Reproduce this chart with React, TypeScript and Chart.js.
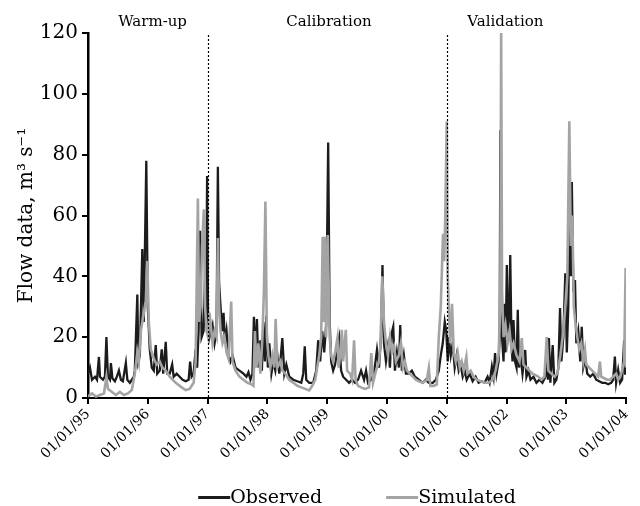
import { useEffect, useRef } from 'react';
import { Chart, registerables } from 'chart.js';

Chart.register(...registerables);

const FONT = '"DejaVu Serif", serif';

type Pt = [number, number];

// x tick labels (one per year, x value = years since 01/01/95)
const tickLabels = ['01/01/95', '01/01/96', '01/01/97', '01/01/98', '01/01/99', '01/01/00', '01/01/01', '01/01/02', '01/01/03', '01/01/04'];
const seriesNames = ['Observed', 'Simulated'];
const periodNames = ['Warm-up', 'Calibration', 'Validation'];
const periodLabelAt = [1.08, 4.03, 6.98];
const periodBoundaries = [2, 6];

// [years since 01/01/95, flow m3/s]
const observedWarmup: Pt[] = [
  [0.000, 8], [0.033, 10], [0.067, 6], [0.117, 7], [0.150, 6], [0.183, 13.5], [0.200, 7], [0.250, 6], [0.283, 7], [0.308, 20],
  [0.333, 7], [0.367, 6], [0.383, 11.5], [0.408, 6.5], [0.450, 5.5], [0.483, 7], [0.517, 9], [0.550, 6], [0.583, 5.5], [0.633, 11.5],
  [0.658, 6], [0.700, 5], [0.733, 6], [0.767, 7], [0.783, 9], [0.825, 34], [0.842, 12], [0.867, 14], [0.908, 49], [0.933, 25],
  [0.975, 78], [1.000, 30], [1.033, 16], [1.067, 10], [1.100, 9], [1.133, 17.4], [1.158, 8], [1.200, 9], [1.233, 16], [1.258, 8],
  [1.300, 18.5], [1.325, 8], [1.367, 8], [1.408, 11], [1.433, 7], [1.483, 8], [1.533, 7], [1.583, 6], [1.633, 5.5], [1.683, 6],
  [1.708, 12], [1.733, 7], [1.767, 8], [1.800, 16], [1.825, 10], [1.850, 22], [1.875, 55], [1.900, 20], [1.933, 22], [1.958, 40],
  [1.975, 24], [1.992, 73], [2.008, 25],
];
const observedCalibration: Pt[] = [
  [2.033, 20], [2.083, 24], [2.117, 18], [2.150, 22], [2.172, 76], [2.192, 38], [2.217, 30], [2.242, 22], [2.267, 28], [2.292, 18],
  [2.317, 22], [2.350, 14], [2.383, 12], [2.417, 14], [2.467, 10], [2.533, 9], [2.600, 8], [2.650, 7], [2.683, 8.5], [2.717, 6],
  [2.750, 8], [2.775, 26.7], [2.800, 12], [2.825, 26], [2.850, 10], [2.883, 19], [2.908, 9], [2.933, 25], [2.958, 12], [2.983, 27],
  [3.008, 10], [3.033, 18], [3.067, 8], [3.100, 12], [3.133, 9], [3.167, 14], [3.200, 8], [3.250, 19.7], [3.283, 8], [3.317, 11],
  [3.367, 7], [3.433, 6], [3.500, 5.5], [3.567, 5], [3.600, 8], [3.625, 17], [3.650, 6], [3.700, 5], [3.767, 5], [3.817, 9],
  [3.850, 19], [3.883, 12], [3.917, 22], [3.950, 15], [3.983, 24], [4.017, 84], [4.042, 25], [4.067, 12], [4.100, 9], [4.133, 11],
  [4.167, 16], [4.200, 19.7], [4.233, 9], [4.267, 7], [4.317, 6], [4.367, 5], [4.417, 6], [4.467, 5], [4.517, 6], [4.567, 9],
  [4.617, 6], [4.650, 9], [4.683, 5], [4.733, 6], [4.783, 8], [4.833, 15.8], [4.867, 10], [4.900, 20], [4.925, 43.7], [4.950, 18],
  [4.983, 12], [5.017, 17], [5.050, 10], [5.075, 21], [5.105, 23.4], [5.133, 9], [5.167, 15], [5.200, 10], [5.222, 24], [5.250, 9],
  [5.283, 14], [5.317, 8], [5.367, 8], [5.417, 9], [5.467, 7], [5.533, 6], [5.600, 5], [5.650, 6], [5.700, 5], [5.767, 5],
  [5.817, 6], [5.867, 9], [5.900, 14], [5.933, 18], [5.967, 25], [5.992, 22], [6.017, 12],
];
const observedValidation: Pt[] = [
  [6.033, 20], [6.067, 14], [6.100, 18], [6.133, 10], [6.167, 14], [6.200, 9], [6.233, 11], [6.267, 7], [6.300, 9], [6.333, 6],
  [6.383, 8], [6.433, 5.5], [6.483, 7], [6.533, 5], [6.583, 5.5], [6.633, 5], [6.683, 7], [6.717, 5], [6.755, 10.3], [6.783, 7],
  [6.808, 14.8], [6.833, 8], [6.867, 12], [6.885, 20], [6.897, 88], [6.925, 20], [6.950, 12], [6.967, 31], [6.983, 15], [7.005, 43.7],
  [7.022, 20], [7.042, 25], [7.062, 47], [7.083, 18], [7.100, 12], [7.117, 25.6], [7.142, 12], [7.167, 10], [7.188, 29], [7.208, 10],
  [7.233, 14], [7.267, 8], [7.312, 15.8], [7.333, 7], [7.367, 9], [7.400, 6], [7.450, 7], [7.500, 5], [7.550, 6], [7.600, 5],
  [7.650, 7], [7.672, 17], [7.692, 6], [7.708, 19.7], [7.733, 5], [7.772, 17.4], [7.800, 5], [7.833, 6], [7.867, 10], [7.895, 29.6],
  [7.917, 12], [7.950, 20], [7.983, 41], [8.008, 15], [8.033, 30], [8.058, 75], [8.075, 40], [8.092, 71], [8.117, 35], [8.145, 38.8],
  [8.167, 18], [8.200, 22], [8.233, 12], [8.258, 23.4], [8.283, 10], [8.317, 13], [8.350, 8], [8.400, 7], [8.450, 8], [8.500, 6],
  [8.550, 5.5], [8.600, 5], [8.650, 5], [8.700, 4.5], [8.750, 5], [8.783, 6], [8.812, 13.6], [8.833, 5], [8.867, 9.2], [8.900, 5],
  [8.933, 6], [8.967, 19], [8.983, 8], [9.000, 8],
];

const simulatedWarmup: Pt[] = [
  [0.000, 0.5], [0.067, 1.5], [0.133, 0.5], [0.200, 1], [0.267, 1.5], [0.308, 7], [0.333, 3], [0.400, 2], [0.467, 1], [0.533, 2],
  [0.600, 1], [0.667, 1.5], [0.733, 2.6], [0.783, 8], [0.825, 15], [0.850, 12], [0.883, 22], [0.917, 26], [0.967, 32], [0.992, 45],
  [1.017, 25], [1.050, 16], [1.100, 13], [1.150, 11], [1.200, 12], [1.242, 10], [1.300, 9], [1.367, 7], [1.467, 5], [1.567, 3.5],
  [1.633, 2.6], [1.700, 3], [1.767, 5], [1.800, 12], [1.838, 65.6], [1.858, 25], [1.883, 30], [1.908, 50], [1.938, 62], [1.958, 30],
  [1.983, 22], [2.008, 20],
];
const simulatedCalibration: Pt[] = [
  [2.033, 28], [2.083, 18], [2.117, 22], [2.150, 20], [2.172, 52.6], [2.192, 30], [2.217, 22], [2.250, 18], [2.283, 20], [2.317, 15],
  [2.350, 13], [2.395, 31.7], [2.417, 12], [2.467, 9], [2.533, 7], [2.600, 6], [2.667, 5], [2.733, 4.5], [2.767, 4], [2.792, 22],
  [2.817, 10], [2.850, 18], [2.883, 8], [2.917, 20], [2.942, 35], [2.967, 64.6], [2.992, 20], [3.017, 14], [3.050, 10], [3.083, 14],
  [3.117, 10], [3.138, 26], [3.167, 10], [3.217, 12], [3.250, 9], [3.300, 8], [3.367, 6], [3.433, 5], [3.500, 4], [3.567, 3.5],
  [3.633, 3], [3.700, 2.5], [3.750, 4], [3.800, 6], [3.833, 10], [3.867, 14], [3.900, 20], [3.925, 53], [3.942, 25], [3.962, 53],
  [3.983, 20], [4.010, 53.6], [4.042, 20], [4.067, 14], [4.100, 12], [4.133, 15], [4.172, 19.7], [4.192, 10], [4.217, 14], [4.245, 22.4],
  [4.267, 12], [4.312, 22.4], [4.333, 9], [4.383, 8], [4.417, 6], [4.450, 19], [4.475, 6], [4.517, 4], [4.567, 3.5], [4.633, 3],
  [4.700, 3.5], [4.738, 14.8], [4.767, 5], [4.817, 9], [4.867, 12], [4.892, 18], [4.922, 40], [4.950, 25], [4.983, 18], [5.017, 14],
  [5.050, 20], [5.083, 15], [5.117, 17], [5.150, 12], [5.200, 14], [5.233, 18], [5.267, 10], [5.300, 12], [5.333, 9], [5.383, 8],
  [5.433, 7], [5.483, 6], [5.533, 5.5], [5.600, 5], [5.667, 6], [5.700, 9.9], [5.725, 4], [5.783, 4], [5.833, 4.5], [5.867, 20],
  [5.900, 30], [5.938, 54], [5.958, 45], [5.975, 60], [6.000, 91], [6.017, 40],
];
const simulatedValidation: Pt[] = [
  [6.033, 30], [6.058, 18], [6.088, 31], [6.117, 15], [6.150, 12], [6.183, 15], [6.217, 10], [6.250, 12], [6.283, 9], [6.328, 13.6],
  [6.350, 8], [6.400, 9], [6.450, 7], [6.500, 6], [6.567, 5.5], [6.633, 5], [6.700, 5], [6.767, 6], [6.817, 9], [6.867, 14],
  [6.895, 30], [6.910, 121], [6.925, 35], [6.950, 20], [6.983, 24], [7.017, 18], [7.050, 22], [7.083, 16], [7.117, 18], [7.167, 14],
  [7.217, 12], [7.255, 19.7], [7.283, 11], [7.333, 10], [7.383, 9], [7.433, 8], [7.483, 7.5], [7.533, 7], [7.583, 6], [7.633, 7],
  [7.672, 20], [7.700, 9], [7.750, 8], [7.800, 7], [7.850, 8], [7.900, 14], [7.950, 22], [7.983, 30], [8.017, 40], [8.050, 91],
  [8.075, 50], [8.100, 60], [8.125, 30], [8.150, 25], [8.183, 20], [8.217, 16], [8.250, 18], [8.283, 12], [8.312, 15.8], [8.333, 11],
  [8.383, 10], [8.433, 9], [8.483, 8], [8.533, 7], [8.562, 12], [8.583, 7], [8.633, 6.5], [8.683, 6], [8.733, 6], [8.783, 7],
  [8.833, 8], [8.867, 6], [8.900, 7], [8.933, 9], [8.967, 12], [8.992, 42.7], [9.000, 10],
];

const toXY = (pts: Pt[]) => pts.map(([x, y]) => ({ x, y }));

const overlayPlugin = {
  id: 'overlay',
  afterDatasetsDraw(chart: any) {
    const { ctx, chartArea, scales } = chart;
    ctx.save();
    ctx.strokeStyle = '#000';
    ctx.lineWidth = 1.2;
    ctx.setLineDash([2, 2]);
    for (const b of periodBoundaries) {
      const x = Math.round(scales.x.getPixelForValue(b)) + 0.5;
      ctx.beginPath();
      ctx.moveTo(x, chartArea.top + 2);
      ctx.lineTo(x, chartArea.bottom);
      ctx.stroke();
    }
    ctx.restore();
  },
  afterDraw(chart: any) {
    const { ctx, chartArea, scales } = chart;
    ctx.save();
    ctx.fillStyle = '#000';
    ctx.font = `15px ${FONT}`;
    ctx.textAlign = 'center';
    ctx.textBaseline = 'middle';
    periodNames.forEach((n, i) => {
      ctx.fillText(n, scales.x.getPixelForValue(periodLabelAt[i]), 22);
    });
    // legend
    ctx.font = `19px ${FONT}`;
    const lineLen = 32;
    const gap = 64;
    const ds = chart.data.datasets;
    const widths = ds.map((d: any) => lineLen + ctx.measureText(d.label).width);
    const total = widths.reduce((a: number, b: number) => a + b, 0) + gap * (ds.length - 1);
    let x = (chartArea.left + chartArea.right) / 2 - total / 2;
    const baseY = 503;
    ds.forEach((d: any, i: number) => {
      ctx.strokeStyle = d.borderColor;
      ctx.lineWidth = 3;
      ctx.setLineDash([]);
      ctx.beginPath();
      ctx.moveTo(x, baseY - 5.5);
      ctx.lineTo(x + lineLen, baseY - 5.5);
      ctx.stroke();
      ctx.textAlign = 'left';
      ctx.textBaseline = 'alphabetic';
      ctx.fillText(d.label, x + lineLen, baseY);
      x += widths[i] + gap;
    });
    ctx.restore();
  },
};

export default function App() {
  const canvasRef = useRef<HTMLCanvasElement | null>(null);

  useEffect(() => {
    if (!canvasRef.current) return;
    const observed = [...observedWarmup, ...observedCalibration, ...observedValidation];
    const simulated = [...simulatedWarmup, ...simulatedCalibration, ...simulatedValidation];
    const chart = new Chart(canvasRef.current, {
      type: 'line',
      data: {
        datasets: [
          {
            label: seriesNames[0],
            data: toXY(observed),
            borderColor: '#1c1c1c',
            borderWidth: 2.3,
            pointRadius: 0,
            tension: 0,
            order: 1,
          },
          {
            label: seriesNames[1],
            data: toXY(simulated),
            borderColor: '#a4a4a4',
            borderWidth: 2.6,
            pointRadius: 0,
            tension: 0,
            order: 0,
          },
        ],
      },
      options: {
        animation: false,
        responsive: true,
        maintainAspectRatio: false,
        devicePixelRatio: 1,
        layout: { padding: { top: 33, right: 12, left: 0, bottom: 0 } },
        plugins: {
          legend: { display: false },
          tooltip: { enabled: false },
        },
        scales: {
          x: {
            type: 'linear',
            min: 0,
            max: 9,
            afterFit: (s: any) => { s.height = 108; },
            afterBuildTicks: (s: any) => {
              s.ticks = tickLabels.map((_, i) => ({ value: i }));
            },
            ticks: {
              autoSkip: false,
              maxRotation: 45,
              minRotation: 45,
              padding: 2,
              color: '#000',
              font: { family: FONT, size: 14 },
              callback: (v: any) => tickLabels[Math.round(Number(v))] ?? '',
            },
            grid: {
              drawOnChartArea: false,
              drawTicks: true,
              tickLength: 6,
              color: '#000',
              lineWidth: 2,
            },
            border: { display: true, color: '#000', width: 2 },
          },
          y: {
            min: 0,
            max: 120,
            afterFit: (s: any) => { s.width = 88; },
            ticks: {
              stepSize: 20,
              padding: 4,
              color: '#000',
              font: { family: FONT, size: 20 },
            },
            grid: {
              drawOnChartArea: false,
              drawTicks: true,
              tickLength: 6,
              color: '#000',
              lineWidth: 2,
            },
            border: { display: true, color: '#000', width: 2.5 },
            title: {
              display: true,
              text: 'Flow data, m³ s⁻¹',
              color: '#000',
              font: { family: FONT, size: 20 },
              padding: { top: 15, bottom: 0 },
            },
          },
        },
      },
      plugins: [overlayPlugin],
    } as any);
    return () => chart.destroy();
  }, []);

  return (
    <div style={{ position: 'fixed', left: 0, top: 0, width: 640, height: 506 }}>
      <canvas ref={canvasRef} />
    </div>
  );
}
